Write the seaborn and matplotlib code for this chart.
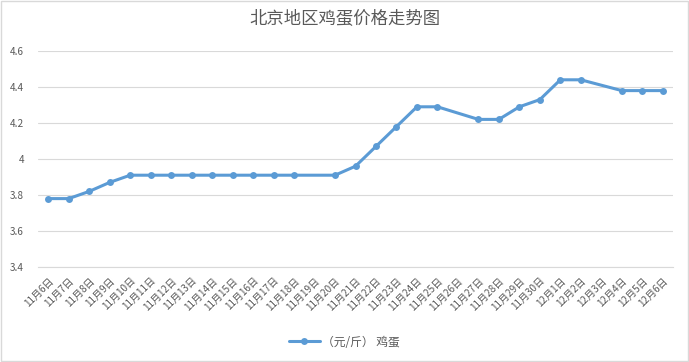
import numpy as np
import pandas as pd
import matplotlib
matplotlib.use('Agg')
import matplotlib.pyplot as plt
import seaborn as sns

## data
dates = ['11月6日', '11月7日', '11月8日', '11月9日', '11月10日', '11月11日', '11月12日',
         '11月13日', '11月14日', '11月15日', '11月16日', '11月17日', '11月18日', '11月19日',
         '11月20日', '11月21日', '11月22日', '11月23日', '11月24日', '11月25日', '11月26日',
         '11月27日', '11月28日', '11月29日', '11月30日', '12月1日', '12月2日', '12月3日',
         '12月4日', '12月5日', '12月6日']
# None = no price that day (line joins across the gap)
price = [3.78, 3.78, 3.82, 3.87, 3.91, 3.91, 3.91,
         3.91, 3.91, 3.91, 3.91, 3.91, 3.91, None,
         3.91, 3.96, 4.07, 4.18, 4.29, 4.29, None,
         4.22, 4.22, 4.29, 4.33, 4.44, 4.44, None,
         4.38, 4.38, 4.38]
series_name = '（元/斤） 鸡蛋'
title = '北京地区鸡蛋价格走势图'
yticks = [3.4, 3.6, 3.8, 4.0, 4.2, 4.4, 4.6]
ytick_labels = ['3.4', '3.6', '3.8', '4', '4.2', '4.4', '4.6']

df = pd.DataFrame({'pos': range(len(dates)), 'date': dates, 'price': price})
df = df.dropna()

sns.set_style('white')
plt.rcParams['font.family'] = ['Noto Sans CJK SC', 'DejaVu Sans']

blue = '#5B9BD5'
grey_txt = '#595959'
grid_c = '#D9D9D9'

fig = plt.figure(figsize=(6.89, 3.62), dpi=100)
ax = fig.add_axes([38/689, 1 - 267/362, (673-38)/689, (267-51)/362])

sns.lineplot(data=df, x='pos', y='price', ax=ax, color=blue, linewidth=2.2,
             marker='o', markersize=5, markeredgewidth=0, label=series_name)

ax.set_xlim(-0.5, len(dates) - 0.5)
ax.set_ylim(3.4, 4.6)
ax.set_yticks(yticks)
ax.set_yticklabels(ytick_labels)
ax.set_xticks(range(len(dates)))
ax.set_xticklabels(dates, rotation=45, ha='right', rotation_mode='anchor')
ax.set_xticks(np.arange(-0.5, len(dates)), minor=True)
ax.tick_params(axis='x', which='major', length=0, pad=6, labelsize=7.2, colors=grey_txt)
ax.tick_params(axis='x', which='minor', length=4, color=grid_c, width=0.8)
ax.tick_params(axis='y', length=0, labelsize=7.2, colors=grey_txt, pad=10)
ax.set_xlabel('')
ax.set_ylabel('')

ax.grid(axis='y', color=grid_c, linewidth=0.8)
ax.set_axisbelow(True)
for s in ['top', 'right', 'left']:
    ax.spines[s].set_visible(False)
ax.spines['bottom'].set_color(grid_c)
ax.spines['bottom'].set_linewidth(0.8)

fig.text(0.5, 1 - 19/362, title, ha='center', va='center', fontsize=12.5, color=grey_txt)

leg = ax.legend(loc='center', bbox_to_anchor=(0.5, 1 - 342/362), bbox_transform=fig.transFigure,
                frameon=False, fontsize=8.5, handlelength=2.6, handletextpad=0.2)
for t in leg.get_texts():
    t.set_color(grey_txt)

# chart border
fig.patches.append(plt.Rectangle((0.001, 0.002), 0.997, 0.995, transform=fig.transFigure,
                                 fill=False, edgecolor=grid_c, linewidth=1))

fig.savefig('out.png', dpi=100)
